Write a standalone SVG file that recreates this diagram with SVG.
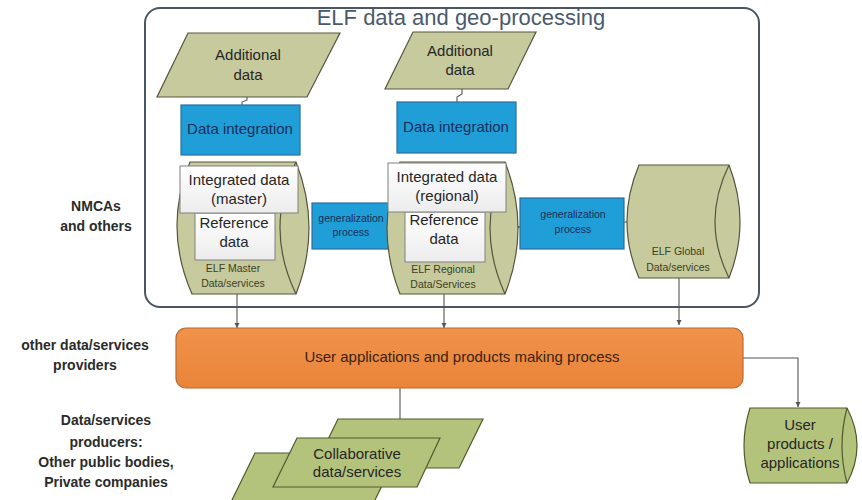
<svg xmlns="http://www.w3.org/2000/svg" width="862" height="500" viewBox="0 0 862 500">
<defs>
<marker id="arr" viewBox="0 0 10 10" refX="10" refY="5" markerWidth="5" markerHeight="5" orient="auto"><path d="M0,0 L10,5 L0,10 z" fill="#555"/></marker>
<linearGradient id="wg" x1="0" y1="0" x2="0" y2="1"><stop offset="0" stop-color="#ffffff"/><stop offset="1" stop-color="#ececec"/></linearGradient>
<linearGradient id="og" x1="0" y1="0" x2="0" y2="1"><stop offset="0" stop-color="#f0924a"/><stop offset="1" stop-color="#ea843a"/></linearGradient>
<style>
text{font-family:"Liberation Sans",Arial,sans-serif;text-anchor:middle}
.olive{fill:#c6ca9d;stroke:#55553f;stroke-width:1.2}
.green{fill:#b4c37c;stroke:#4e5a2e;stroke-width:1.2}
.blue{fill:#1f9ed8;stroke:#2b6f9e;stroke-width:1.2}
.white{fill:url(#wg);stroke:#808080;stroke-width:1}
.conn{fill:none;stroke:#555;stroke-width:1.1}
.t15{font-size:15px;fill:#262626}
.tb{font-size:15px;fill:#1c2e5a}
.ts{font-size:10.5px;fill:#3d4122}
.tg{font-size:10.5px;fill:#1c2e5a}
.lab{font-size:14px;font-weight:bold;fill:#2b2b2b}
</style>
</defs>
<rect width="862" height="500" fill="#ffffff"/>

<g id="elf-frame">
<rect x="145" y="8" width="614" height="299" rx="15" ry="15" fill="none" stroke="#4b5664" stroke-width="2"/>
<text x="461" y="25" style="font-size:22px;fill:#4a5a6e">ELF data and geo-processing</text>
</g>

<g id="labels">
<text class="lab" x="96" y="211">NMCAs</text>
<text class="lab" x="96" y="231">and  others</text>
<text class="lab" x="85" y="350">other data/services</text>
<text class="lab" x="85" y="370">providers</text>
<text class="lab" x="106" y="425">Data/services</text>
<text class="lab" x="106" y="447">producers:</text>
<text class="lab" x="106" y="467">Other public bodies,</text>
<text class="lab" x="106" y="487">Private companies</text>
</g>

<g id="connectors">
<path class="conn" d="M247,97 V100 L242,102 V105"/>
<path class="conn" d="M462,89 V94 L457,97 V102"/>
<path class="conn" d="M505,227 H520" marker-end="url(#arr)"/>
<path class="conn" d="M624,222 H628"/>
<path class="conn" d="M237,294 V328" marker-end="url(#arr)"/>
<path class="conn" d="M444,294 V328" marker-end="url(#arr)"/>
<path class="conn" d="M679,278 V325" marker-end="url(#arr)"/>
<path class="conn" d="M743,358 H798 V407" marker-end="url(#arr)"/>
<path class="conn" d="M400,388 V419"/>
</g>

<g id="additional-data-1">
<polygon class="olive" points="188,33 340,33 307,97 157,97"/>
<text class="t15" x="248" y="60">Additional</text>
<text class="t15" x="248" y="80">data</text>
</g>

<g id="additional-data-2">
<polygon class="olive" points="413,32 536,32 508,89 385,89"/>
<text class="t15" x="460" y="56">Additional</text>
<text class="t15" x="460" y="75">data</text>
</g>

<g id="data-integration-1">
<rect class="blue" x="181" y="105" width="119" height="50"/>
<text class="tb" x="240" y="134">Data integration</text>
</g>

<g id="data-integration-2">
<rect class="blue" x="397" y="102" width="119" height="51"/>
<text class="tb" x="456" y="132">Data integration</text>
</g>

<g id="elf-master">
<path class="olive" d="M190,162 H296 Q322,228 296,294 H192 Q163,228 190,162 Z"/>
<path class="olive" d="M296,162 Q264,228 296,294" fill="none"/>
<rect class="white" x="195" y="213" width="80" height="47"/>
<rect class="white" x="180" y="166" width="118" height="47"/>
<text class="t15" x="239" y="185">Integrated data</text>
<text class="t15" x="239" y="204">(master)</text>
<text class="t15" x="234" y="228">Reference</text>
<text class="t15" x="234" y="247">data</text>
<text class="ts" x="233" y="272">ELF Master</text>
<text class="ts" x="233" y="287">Data/services</text>
</g>

<g id="generalization-1">
<rect class="blue" x="312" y="203" width="78" height="46"/>
<text class="tg" x="351" y="222">generalization</text>
<text class="tg" x="351" y="236">process</text>
</g>

<g id="elf-regional">
<path class="olive" d="M400,162 H505 Q531,228 505,294 H400 Q374,228 400,162 Z"/>
<path class="olive" d="M505,162 Q475,228 505,294" fill="none"/>
<rect class="white" x="405" y="212" width="80" height="50"/>
<rect class="white" x="388" y="163" width="118" height="49"/>
<text class="t15" x="447" y="182">Integrated data</text>
<text class="t15" x="447" y="201">(regional)</text>
<text class="t15" x="444" y="225">Reference</text>
<text class="t15" x="444" y="244">data</text>
<text class="ts" x="443" y="273">ELF Regional</text>
<text class="ts" x="443" y="288">Data/Services</text>
</g>

<g id="generalization-2">
<rect class="blue" x="520" y="198" width="104" height="51"/>
<text class="tg" x="573" y="218">generalization</text>
<text class="tg" x="573" y="233">process</text>
</g>

<g id="elf-global">
<path class="olive" d="M639,165 H729 Q751,222 729,278 H639 Q615,222 639,165 Z"/>
<path class="olive" d="M729,165 Q701,222 729,278" fill="none"/>
<text class="ts" x="678" y="255">ELF Global</text>
<text class="ts" x="678" y="271">Data/services</text>
</g>

<g id="user-process">
<rect x="176" y="328" width="567" height="60" rx="10" ry="10" fill="url(#og)" stroke="#b86a33" stroke-width="1.2"/>
<text x="462" y="362" style="font-size:15px;fill:#3a2410">User applications  and products making process</text>
</g>

<g id="collaborative">
<polygon class="green" points="255,453 398,453 374,502 231,502"/>
<polygon class="green" points="338,419 483,419 459,468 314,468"/>
<polygon class="green" points="297,438 440,438 417,487 273,487"/>
<text class="t15" x="357" y="459">Collaborative</text>
<text class="t15" x="357" y="477">data/services</text>
</g>

<g id="user-products">
<path class="green" d="M750,408 H847 Q867,446 847,483 H750 Q738,446 750,408 Z"/>
<path class="green" d="M847,408 Q837,446 847,483" fill="none"/>
<text class="t15" x="800" y="430">User</text>
<text class="t15" x="800" y="449">products /</text>
<text class="t15" x="800" y="468">applications</text>
</g>
</svg>
